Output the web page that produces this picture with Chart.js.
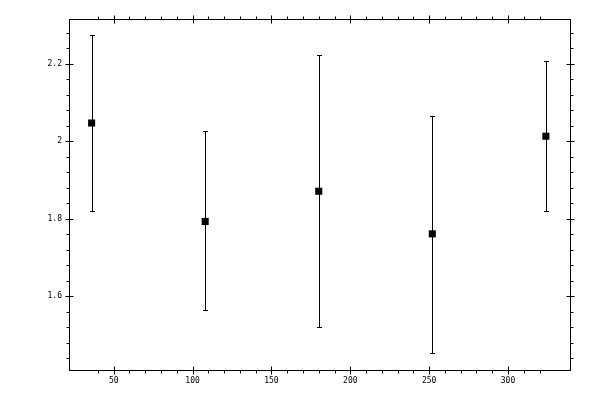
<!DOCTYPE html>
<html>
<head>
<meta charset="utf-8">
<script src="https://cdn.jsdelivr.net/npm/chart.js@4/dist/chart.umd.min.js"></script>
<style>
html,body{margin:0;padding:0;background:#fff;}
#wrap{width:600px;height:400px;}
</style>
</head>
<body>
<div id="wrap"><canvas id="c" width="600" height="400"></canvas></div>
<script>
const xValues = [36, 108, 180, 252, 324];
const yValues = [2.047, 1.793, 1.871, 1.761, 2.013];
const yLow = [1.819, 1.564, 1.521, 1.453, 1.819];
const yHigh = [2.274, 2.026, 2.222, 2.066, 2.206];
const xRange = [21.66, 339.3];
const yRange = [1.4097, 2.3154];
const xStep = 10, xLabelStep = 50;
const yStep = 0.04, yLabelStep = 0.2;

function isMult(v, s){ const r = v / s; return Math.abs(r - Math.round(r)) < 1e-6; }

const errorBars = {
  id: 'errorBars',
  beforeDatasetsDraw(chart){
    const {ctx, scales:{x, y}} = chart;
    ctx.save();
    ctx.strokeStyle = '#000';
    ctx.lineWidth = 1;
    for (let i = 0; i < xValues.length; i++){
      const px = Math.round(x.getPixelForValue(xValues[i])) + 0.5;
      const pl = Math.round(y.getPixelForValue(yLow[i])) + 0.5;
      const ph = Math.round(y.getPixelForValue(yHigh[i])) + 0.5;
      ctx.beginPath();
      ctx.moveTo(px, pl); ctx.lineTo(px, ph);
      ctx.moveTo(px - 2.5, pl); ctx.lineTo(px + 2.5, pl);
      ctx.moveTo(px - 2.5, ph); ctx.lineTo(px + 2.5, ph);
      ctx.stroke();
    }
    ctx.restore();
  }
};

const frame = {
  id: 'frame',
  afterDraw(chart){
    const {ctx, chartArea:a, scales:{x, y}} = chart;
    const L = Math.round(a.left) + 0.5, R = Math.round(a.right) + 0.5;
    const T = Math.round(a.top) + 0.5, B = Math.round(a.bottom) + 0.5;
    ctx.save();
    ctx.strokeStyle = '#000';
    ctx.lineWidth = 1;
    ctx.strokeRect(L, T, R - L, B - T);
    ctx.beginPath();
    x.ticks.forEach(t => {
      if (!isMult(t.value, xStep)) return;
      const major = isMult(t.value, xLabelStep);
      const px = Math.round(x.getPixelForValue(t.value)) + 0.5;
      const out = major ? 4 : 3, inn = major ? 4 : 0;
      ctx.moveTo(px, B + out); ctx.lineTo(px, B - inn);
      ctx.moveTo(px, T - out); ctx.lineTo(px, T + inn);
    });
    y.ticks.forEach(t => {
      if (!isMult(t.value, yStep)) return;
      const major = isMult(t.value, yLabelStep);
      const py = Math.round(y.getPixelForValue(t.value)) + 0.5;
      const out = major ? 4 : 3, inn = major ? 4 : 0;
      ctx.moveTo(L - out, py); ctx.lineTo(L + inn, py);
      ctx.moveTo(R + out, py); ctx.lineTo(R - inn, py);
    });
    ctx.stroke();
    ctx.restore();
  }
};

Chart.defaults.font.family = "'DejaVu Sans Mono', monospace";
Chart.defaults.font.size = 8;
Chart.defaults.color = '#000';

new Chart(document.getElementById('c'), {
  type: 'scatter',
  data: {
    datasets: [{
      data: xValues.map((v, i) => ({x: v, y: yValues[i]})),
      pointStyle: 'rect',
      pointRadius: 5,
      pointBackgroundColor: '#000',
      pointBorderWidth: 0,
      showLine: false
    }]
  },
  options: {
    responsive: false,
    animation: false,
    devicePixelRatio: 1,
    layout: {padding: {top: 19, right: 30, left: 0, bottom: 0}},
    plugins: {legend: {display: false}, tooltip: {enabled: false}},
    scales: {
      x: {
        type: 'linear',
        min: xRange[0], max: xRange[1],
        grid: {display: false, drawTicks: false},
        border: {display: false},
        ticks: {
          stepSize: xStep, maxTicksLimit: 1000, autoSkip: false, maxRotation: 0,
          padding: 6,
          callback: v => isMult(v, xLabelStep) ? String(Math.round(v)) : ''
        },
        afterFit(s){ s.height = 30; }
      },
      y: {
        type: 'linear',
        min: yRange[0], max: yRange[1],
        grid: {display: false, drawTicks: false},
        border: {display: false},
        ticks: {
          stepSize: yStep, maxTicksLimit: 1000, autoSkip: false,
          padding: 7,
          callback: v => isMult(v, yLabelStep) ? String(Number(v.toFixed(2))) : ''
        },
        afterFit(s){ s.width = 69; }
      }
    }
  },
  plugins: [errorBars, frame]
});
</script>
</body>
</html>
